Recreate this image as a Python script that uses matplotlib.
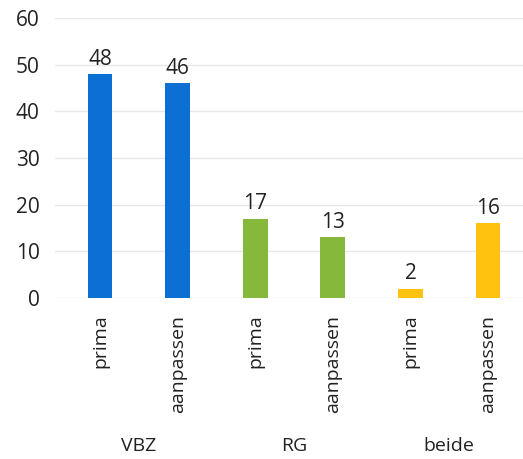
import numpy as np
import matplotlib.pyplot as plt

plt.rcParams['font.family'] = ['Open Sans', 'DejaVu Sans']

groepen = ["VBZ", "RG", "beide"]
labels = ["prima", "aanpassen", "prima", "aanpassen", "prima", "aanpassen"]
waarden = [48, 46, 17, 13, 2, 16]
kleuren = ["#0b6fd4", "#0b6fd4", "#86b83c", "#86b83c", "#ffc20e", "#ffc20e"]

fig = plt.figure(figsize=(5.23, 4.59), dpi=100)
ax = fig.add_axes([55/523, (459-298)/459, 468/523, 280/459])

x = np.arange(len(waarden))
ax.bar(x, waarden, width=0.32, color=kleuren, zorder=3)
for xi, v in zip(x, waarden):
    ax.text(xi, v + 0.9, str(v), ha="center", va="bottom", fontsize=15, color="#222222")

ax.set_xlim(-0.58, 5.45)
ax.set_ylim(0, 60)
ax.set_yticks(range(0, 61, 10))
ax.grid(axis="y", color="#e8e8e8", linewidth=1, zorder=0)
for s in ax.spines.values():
    s.set_visible(False)
ax.tick_params(axis="y", length=0, labelsize=15, pad=11, labelcolor="#222222")
ax.set_xticks(x)
ax.set_xticklabels(labels, rotation=90, fontsize=14, color="#222222")
ax.tick_params(axis="x", length=0, pad=12)

for i, g in enumerate(groepen):
    ax.text(2*i + 0.5, -0.53, g, transform=ax.get_xaxis_transform(),
            ha="center", va="center", fontsize=14, color="#222222")

fig.savefig("out.png", dpi=100)
